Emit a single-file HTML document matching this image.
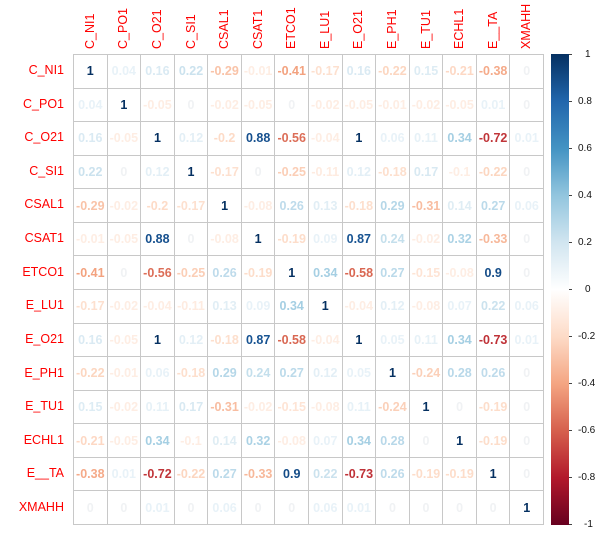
<!DOCTYPE html>
<html><head><meta charset="utf-8"><style>
body{margin:0;width:611px;height:538px;background:#fff;position:relative;overflow:hidden;font-family:"Liberation Sans",sans-serif}
#g{position:absolute;left:73px;top:54px;width:471px;height:471px;display:grid;grid-template-columns:repeat(14,1fr);grid-template-rows:repeat(14,1fr);border-left:1px solid #c8c8c8;border-top:1px solid #c8c8c8;box-sizing:border-box}
#g div{border-right:1px solid #c8c8c8;border-bottom:1px solid #c8c8c8;display:flex;align-items:center;justify-content:center;font-size:12.5px;font-weight:bold;color:#fff}
.rl{position:absolute;right:547px;font-size:12.5px;color:#f00;line-height:14px}
.cl{position:absolute;top:49px;font-size:12.5px;color:#f00;line-height:14px;transform:rotate(-90deg);transform-origin:0 0;white-space:nowrap}
#bar{position:absolute;left:551px;top:54px;width:18px;height:471px;background:linear-gradient(#053061,#2166AC,#4393C3,#92C5DE,#D1E5F0,#FFFFFF,#FDDBC7,#F4A582,#D6604D,#B2182B,#67001F)}
.t{position:absolute;left:569px;width:3px;height:1px;background:#444}
.tl{position:absolute;left:578px;font-size:10px;color:#111;line-height:10px}
</style></head><body>
<div class="rl" style="top:63px">C_NI1</div>
<div class="rl" style="top:97px">C_PO1</div>
<div class="rl" style="top:130px">C_O21</div>
<div class="rl" style="top:164px">C_SI1</div>
<div class="rl" style="top:197px">CSAL1</div>
<div class="rl" style="top:231px">CSAT1</div>
<div class="rl" style="top:265px">ETCO1</div>
<div class="rl" style="top:298px">E_LU1</div>
<div class="rl" style="top:332px">E_O21</div>
<div class="rl" style="top:366px">E_PH1</div>
<div class="rl" style="top:399px">E_TU1</div>
<div class="rl" style="top:433px">ECHL1</div>
<div class="rl" style="top:466px">E__TA</div>
<div class="rl" style="top:500px">XMAHH</div>
<div class="cl" style="left:83px">C_NI1</div>
<div class="cl" style="left:116px">C_PO1</div>
<div class="cl" style="left:150px">C_O21</div>
<div class="cl" style="left:184px">C_SI1</div>
<div class="cl" style="left:217px">CSAL1</div>
<div class="cl" style="left:251px">CSAT1</div>
<div class="cl" style="left:284px">ETCO1</div>
<div class="cl" style="left:318px">E_LU1</div>
<div class="cl" style="left:351px">E_O21</div>
<div class="cl" style="left:385px">E_PH1</div>
<div class="cl" style="left:419px">E_TU1</div>
<div class="cl" style="left:452px">ECHL1</div>
<div class="cl" style="left:486px">E__TA</div>
<div class="cl" style="left:519px">XMAHH</div>
<div id="g">
<div>1</div><div>0.04</div><div>0.16</div><div>0.22</div><div>-0.29</div><div>-0.01</div><div>-0.41</div><div>-0.17</div><div>0.16</div><div>-0.22</div><div>0.15</div><div>-0.21</div><div>-0.38</div><div>0</div>
<div>0.04</div><div>1</div><div>-0.05</div><div>0</div><div>-0.02</div><div>-0.05</div><div>0</div><div>-0.02</div><div>-0.05</div><div>-0.01</div><div>-0.02</div><div>-0.05</div><div>0.01</div><div>0</div>
<div>0.16</div><div>-0.05</div><div>1</div><div>0.12</div><div>-0.2</div><div>0.88</div><div>-0.56</div><div>-0.04</div><div>1</div><div>0.06</div><div>0.11</div><div>0.34</div><div>-0.72</div><div>0.01</div>
<div>0.22</div><div>0</div><div>0.12</div><div>1</div><div>-0.17</div><div>0</div><div>-0.25</div><div>-0.11</div><div>0.12</div><div>-0.18</div><div>0.17</div><div>-0.1</div><div>-0.22</div><div>0</div>
<div>-0.29</div><div>-0.02</div><div>-0.2</div><div>-0.17</div><div>1</div><div>-0.08</div><div>0.26</div><div>0.13</div><div>-0.18</div><div>0.29</div><div>-0.31</div><div>0.14</div><div>0.27</div><div>0.06</div>
<div>-0.01</div><div>-0.05</div><div>0.88</div><div>0</div><div>-0.08</div><div>1</div><div>-0.19</div><div>0.09</div><div>0.87</div><div>0.24</div><div>-0.02</div><div>0.32</div><div>-0.33</div><div>0</div>
<div>-0.41</div><div>0</div><div>-0.56</div><div>-0.25</div><div>0.26</div><div>-0.19</div><div>1</div><div>0.34</div><div>-0.58</div><div>0.27</div><div>-0.15</div><div>-0.08</div><div>0.9</div><div>0</div>
<div>-0.17</div><div>-0.02</div><div>-0.04</div><div>-0.11</div><div>0.13</div><div>0.09</div><div>0.34</div><div>1</div><div>-0.04</div><div>0.12</div><div>-0.08</div><div>0.07</div><div>0.22</div><div>0.06</div>
<div>0.16</div><div>-0.05</div><div>1</div><div>0.12</div><div>-0.18</div><div>0.87</div><div>-0.58</div><div>-0.04</div><div>1</div><div>0.05</div><div>0.11</div><div>0.34</div><div>-0.73</div><div>0.01</div>
<div>-0.22</div><div>-0.01</div><div>0.06</div><div>-0.18</div><div>0.29</div><div>0.24</div><div>0.27</div><div>0.12</div><div>0.05</div><div>1</div><div>-0.24</div><div>0.28</div><div>0.26</div><div>0</div>
<div>0.15</div><div>-0.02</div><div>0.11</div><div>0.17</div><div>-0.31</div><div>-0.02</div><div>-0.15</div><div>-0.08</div><div>0.11</div><div>-0.24</div><div>1</div><div>0</div><div>-0.19</div><div>0</div>
<div>-0.21</div><div>-0.05</div><div>0.34</div><div>-0.1</div><div>0.14</div><div>0.32</div><div>-0.08</div><div>0.07</div><div>0.34</div><div>0.28</div><div>0</div><div>1</div><div>-0.19</div><div>0</div>
<div>-0.38</div><div>0.01</div><div>-0.72</div><div>-0.22</div><div>0.27</div><div>-0.33</div><div>0.9</div><div>0.22</div><div>-0.73</div><div>0.26</div><div>-0.19</div><div>-0.19</div><div>1</div><div>0</div>
<div>0</div><div>0</div><div>0.01</div><div>0</div><div>0.06</div><div>0</div><div>0</div><div>0.06</div><div>0.01</div><div>0</div><div>0</div><div>0</div><div>0</div><div>1</div>
</div>
<div id="bar"></div>
<div class="t" style="top:54px"></div><div class="t" style="top:101px"></div><div class="t" style="top:148px"></div><div class="t" style="top:195px"></div><div class="t" style="top:242px"></div><div class="t" style="top:289px"></div><div class="t" style="top:336px"></div><div class="t" style="top:383px"></div><div class="t" style="top:430px"></div><div class="t" style="top:477px"></div><div class="t" style="top:524px"></div>
<div class="tl" style="top:50px;left:585px">1</div>
<div class="tl" style="top:97px">0.8</div>
<div class="tl" style="top:144px">0.6</div>
<div class="tl" style="top:191px">0.4</div>
<div class="tl" style="top:238px">0.2</div>
<div class="tl" style="top:285px;left:585px">0</div>
<div class="tl" style="top:332px">-0.2</div>
<div class="tl" style="top:379px">-0.4</div>
<div class="tl" style="top:426px">-0.6</div>
<div class="tl" style="top:473px">-0.8</div>
<div class="tl" style="top:520px;left:584px">-1</div>
<script>
var P=["#67001F","#B2182B","#D6604D","#F4A582","#FDDBC7","#FFFFFF","#D1E5F0","#92C5DE","#4393C3","#2166AC","#053061"].map(function(h){return[parseInt(h.substr(1,2),16),parseInt(h.substr(3,2),16),parseInt(h.substr(5,2),16)]});
function col(v){
if(v===0)return"rgb(240,242,244)";
var s=v<0?-1:1,a0=Math.abs(v);if(a0<0.1)a0=0.1;v=s*a0;
var p=(v+1)/2*10,i=Math.min(9,Math.floor(p)),f=p-i,a=P[i],b=P[i+1];
var c=[0,1,2].map(function(k){return Math.round(a[k]+(b[k]-a[k])*f)});
return"rgb("+c.join(",")+")"}
document.querySelectorAll("#g div").forEach(function(d){d.style.color=col(parseFloat(d.textContent))});
</script>
</body></html>
